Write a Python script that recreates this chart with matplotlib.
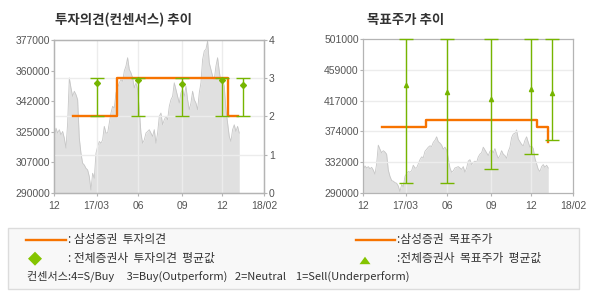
import numpy as np
import matplotlib
matplotlib.use("Agg")
import matplotlib.pyplot as plt
from matplotlib.lines import Line2D
from matplotlib.patches import Rectangle, Polygon

# ---------------- data ----------------
x_tick_pos = [0, 2.822, 5.6, 8.533, 11.156, 14]
x_tick_labels = ["12", "17/03", "06", "09", "12", "18/02"]

price = [321100, 326800, 324000, 325900, 323000, 324900, 321100, 315400, 329700, 355400,
         349700, 344900, 347800, 345900, 343000, 321100, 312500, 306800, 305800, 303900,
         303000, 299200, 291500, 301100, 298200, 312500, 316300, 319200, 318200, 320100,
         327800, 324000, 324000, 329700, 335400, 339200, 338300, 346900, 349700, 352600,
         354500, 353500, 359300, 362100, 366900, 360200, 358300, 355400, 349700, 352600,
         348800, 337300, 324000, 318200, 320100, 324000, 324900, 325900, 324000, 322100,
         325900, 318200, 324000, 333500, 335400, 328700, 331600, 333500, 331600, 339200,
         343000, 344900, 352600, 348800, 344900, 341100, 346900, 348800, 344900, 350700,
         343000, 337300, 341100, 347800, 343000, 341100, 337300, 346900, 352600, 365900,
         370700, 371700, 376400, 364000, 360200, 356400, 354500, 362100, 366900, 359300,
         352600, 354500, 350700, 337300, 329700, 322100, 319200, 325900, 328700, 324900,
         327800, 324000]
price_x_end = 12.33

opinion_x = [1.267, 4.156, 11.556, 12.27]
opinion_y = [2, 3, 2, 2]

target_x = [1.267, 4.18, 11.56, 12.29]
target_y = [380000, 390000, 380000, 360000]

cons_x = [2.822, 5.6, 8.533, 11.156, 12.55]
op_mean = [2.88, 2.94, 2.86, 2.94, 2.83]
op_low = [2, 2, 2, 2, 2]
op_high = [3, 3, 3, 3, 3]

tp_mean = [438000, 428500, 419000, 432500, 427500]
tp_low = [303000, 303000, 322000, 343000, 362000]
tp_high = [501000, 501000, 501000, 501000, 501000]

left_price_labels = ["290000", "307000", "325000", "342000", "360000", "377000"]
left_price_range = (290000, 377000)
opinion_ticks = [0, 1, 2, 3, 4]
right_price_labels = ["290000", "332000", "374000", "417000", "459000", "501000"]
right_price_range = (290000, 501000)

title_left = "투자의견(컨센서스) 추이"
title_right = "목표주가 추이"
legend_texts = [": 삼성증권  투자의견", ": 전체증권사  투자의견  평균값",
                ":삼성증권  목표주가", ":전체증권사  목표주가  평균값"]
consensus_note = "컨센서스:4=S/Buy     3=Buy(Outperform)   2=Neutral    1=Sell(Underperform)"

# ---------------- style ----------------
ORANGE = "#f77300"
GREEN = "#76b500"
LGREEN = "#84c400"
FILL = "#e0e0e0"
FILL_EDGE = "#c6c6c6"
GRID = "#ececec"
SPINE = "#b4b4b4"
TICKC = "#555555"
KR = ["Noto Sans CJK KR", "DejaVu Sans"]
NUM = "Liberation Sans"

W, H = 590, 300
fig = plt.figure(figsize=(W / 100, H / 100), dpi=100)
fig.patch.set_facecolor("white")


def fx(px):
    return px / W


def fy(py):
    return 1 - py / H


def style_axes(ax):
    for s in ax.spines.values():
        s.set_color(SPINE)
        s.set_linewidth(0.9)
    ax.tick_params(axis="both", colors=SPINE, labelcolor=TICKC, labelsize=7.5,
                   length=2.2, width=0.8)
    ax.tick_params(axis="x", pad=3.5)
    ax.tick_params(axis="y", pad=1)
    for lab in ax.get_xticklabels() + ax.get_yticklabels():
        lab.set_fontfamily(NUM)


px_x = np.linspace(0, price_x_end, len(price))

# ---------- left chart ----------
axL = fig.add_axes([fx(54.3), fy(192.7), fx(210), 152.7 / H])
axL.fill_between(px_x, price, left_price_range[0], color=FILL, lw=0, zorder=1)
axL.plot(px_x, price, color=FILL_EDGE, lw=0.6, zorder=1.2)
axL.set_xlim(0, 14)
axL.set_ylim(*left_price_range)
axL.set_yticks(np.linspace(left_price_range[0], left_price_range[1], len(left_price_labels)))
axL.set_yticklabels(left_price_labels)
axL.set_xticks(x_tick_pos)
axL.set_xticklabels(x_tick_labels)
for xv in x_tick_pos[1:-1]:
    axL.axvline(xv, color=GRID, lw=1.0, zorder=1.5)

axL2 = axL.twinx()
axL2.set_ylim(0, 4)
axL2.set_yticks(opinion_ticks)
axL2.set_yticklabels([str(t) for t in opinion_ticks])
for yv in opinion_ticks[1:-1]:
    axL2.axhline(yv, color=GRID, lw=1.0, zorder=1.5)
axL2.step(opinion_x, opinion_y, where="post", color=ORANGE, lw=1.7, zorder=3)
op_mean_a = np.array(op_mean)
axL2.errorbar(cons_x, op_mean, yerr=[op_mean_a - np.array(op_low), np.array(op_high) - op_mean_a],
              fmt="D", color=GREEN, ms=3.0, elinewidth=1.0, capsize=5, capthick=1.0,
              zorder=4, clip_on=False)
style_axes(axL)
style_axes(axL2)

# ---------- right chart ----------
axR = fig.add_axes([fx(363.3), fy(192.7), fx(210), 153.4 / H])
axR.fill_between(px_x, price, right_price_range[0], color=FILL, lw=0, zorder=1)
axR.plot(px_x, price, color=FILL_EDGE, lw=0.6, zorder=1.2)
axR.set_xlim(0, 14)
axR.set_ylim(*right_price_range)
rticks = np.linspace(right_price_range[0], right_price_range[1], len(right_price_labels))
axR.set_yticks(rticks)
axR.set_yticklabels(right_price_labels)
axR.set_xticks(x_tick_pos)
axR.set_xticklabels(x_tick_labels)
for xv in x_tick_pos[1:-1]:
    axR.axvline(xv, color=GRID, lw=1.0, zorder=1.5)
for yv in rticks[1:-1]:
    axR.axhline(yv, color=GRID, lw=1.0, zorder=1.5)
axR.step(target_x, target_y, where="post", color=ORANGE, lw=1.7, zorder=3)
tp_mean_a = np.array(tp_mean)
axR.errorbar(cons_x, tp_mean, yerr=[tp_mean_a - np.array(tp_low), np.array(tp_high) - tp_mean_a],
             fmt="^", color=GREEN, ms=3.0, elinewidth=1.0, capsize=5, capthick=1.0,
             zorder=4, clip_on=False)
style_axes(axR)

# ---------- titles ----------
fig.text(fx(55), fy(20), title_left, family=KR, fontsize=9.7, weight="bold",
         color="#333333", va="center", ha="left")
fig.text(fx(366.7), fy(20), title_right, family=KR, fontsize=9.7, weight="bold",
         color="#333333", va="center", ha="left")

# ---------- legend box ----------
fig.add_artist(Rectangle((fx(8.3), fy(289.3)), fx(579.3 - 8.3), (289.3 - 228.3) / H,
                         transform=fig.transFigure, facecolor="#f8f8f8",
                         edgecolor="#dcdcdc", lw=1.0, zorder=0))
fig.add_artist(Line2D([fx(26), fx(65.7)], [fy(240), fy(240)], transform=fig.transFigure,
                      color=ORANGE, lw=1.7))
fig.add_artist(Line2D([fx(356), fx(395)], [fy(240), fy(240)], transform=fig.transFigure,
                      color=ORANGE, lw=1.7))
cx, cy, r = 35, 258.7, 7
fig.add_artist(Polygon([(fx(cx - r), fy(cy)), (fx(cx), fy(cy - r)), (fx(cx + r), fy(cy)),
                        (fx(cx), fy(cy + r))], closed=True, transform=fig.transFigure,
                       facecolor=LGREEN, edgecolor="none"))
tx, ty = 365, 260.7
fig.add_artist(Polygon([(fx(tx - 5.5), fy(ty + 3.5)), (fx(tx + 5.5), fy(ty + 3.5)),
                        (fx(tx), fy(ty - 4))], closed=True, transform=fig.transFigure,
                       facecolor=LGREEN, edgecolor="none"))
fig.text(fx(68.3), fy(240), legend_texts[0], family=KR, fontsize=8.5, color="#333333", va="center")
fig.text(fx(68.3), fy(258.7), legend_texts[1], family=KR, fontsize=8.5, color="#333333", va="center")
fig.text(fx(396.7), fy(240), legend_texts[2], family=KR, fontsize=8.5, color="#333333", va="center")
fig.text(fx(396.7), fy(258.7), legend_texts[3], family=KR, fontsize=8.5, color="#333333", va="center")
fig.text(fx(26.7), fy(276.7), consensus_note, family=KR, fontsize=8.0, color="#333333", va="center")

fig.savefig("out.png", dpi=100)
